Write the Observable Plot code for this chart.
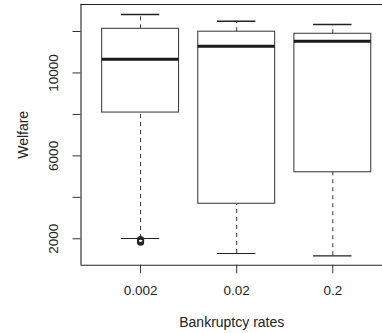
<!DOCTYPE html>
<html>
<head>
<meta charset="utf-8">
<script src="https://cdn.jsdelivr.net/npm/d3@7"></script>
<script src="https://cdn.jsdelivr.net/npm/@observablehq/plot@0.6"></script>
<style>
html, body { margin: 0; padding: 0; background: #fff; overflow: hidden; width: 382px; height: 333px; }
#chart svg { max-width: none !important; display: block; }
</style>
</head>
<body>
<div id="chart"></div>
<script>
const categories = ["0.002", "0.02", "0.2"];
const lowerWhisker = [2015, 1290, 1180];
const q1 = [8090, 3690, 5210];
const median = [10660, 11290, 11530];
const q3 = [12130, 11990, 11890];
const upperWhisker = [12820, 12500, 12340];
const outlierCategory = ["0.002", "0.002", "0.002", "0.002"];
const outlierValues = [1960, 1910, 1870, 1830];
const yTicks = [2000, 4000, 6000, 8000, 10000, 12000];

const xDomain = [0.38, 3.517];
const yDomain = [726, 13303];

const boxes = categories.map((c, i) => ({
  pos: i + 1, cat: c,
  lo: lowerWhisker[i], q1: q1[i], med: median[i], q3: q3[i], hi: upperWhisker[i]
}));
const outliers = outlierValues.map((v, i) => ({
  pos: categories.indexOf(outlierCategory[i]) + 1, v
}));

const ink = "#333";
const chart = Plot.plot({
  width: 382,
  height: 333,
  marginLeft: 80.5,
  marginRight: 0,
  marginTop: 4,
  marginBottom: 68.3,
  style: { fontFamily: "'Liberation Sans', Arial, sans-serif", background: "#fff", color: "#222", maxWidth: "none" },
  x: { type: "linear", domain: xDomain },
  y: { domain: yDomain },
  marks: [
    Plot.ruleY([yDomain[1]], { x1: xDomain[0], x2: xDomain[1], stroke: "#222", strokeWidth: 1.1 }),
    Plot.ruleY([yDomain[0]], { x1: xDomain[0], x2: xDomain[1], stroke: "#222", strokeWidth: 1.1 }),
    Plot.ruleX([xDomain[0]], { stroke: "#222", strokeWidth: 1.1 }),
    Plot.ruleX(boxes, { x: "pos", y1: "q3", y2: "hi", stroke: ink, strokeDasharray: "4,4" }),
    Plot.ruleX(boxes, { x: "pos", y1: "lo", y2: "q1", stroke: ink, strokeDasharray: "4,4" }),
    Plot.ruleY(boxes, { y: "hi", x1: d => d.pos - 0.2, x2: d => d.pos + 0.2, stroke: "#222", strokeWidth: 1.5 }),
    Plot.ruleY(boxes, { y: "lo", x1: d => d.pos - 0.2, x2: d => d.pos + 0.2, stroke: "#222", strokeWidth: 1.2 }),
    Plot.rect(boxes, { x1: d => d.pos - 0.4, x2: d => d.pos + 0.4, y1: "q1", y2: "q3", fill: "white", stroke: "#444", strokeWidth: 1.1 }),
    Plot.ruleY(boxes, { y: "med", x1: d => d.pos - 0.4, x2: d => d.pos + 0.4, stroke: "#1a1a1a", strokeWidth: 3 }),
    Plot.dot(outliers, { x: "pos", y: "v", r: 3, stroke: "#222", strokeWidth: 1.1, fill: "none" }),
    Plot.axisY({
      ticks: yTicks,
      tickFormat: d => (d % 4000 === 2000 ? String(d) : ""),
      tickSize: 8,
      tickPadding: 15,
      tickRotate: -90,
      textAnchor: "middle",
      fontSize: 13.5,
      stroke: "#333",
      label: null
    }),
    Plot.axisY({
      ticks: [],
      fontSize: 14,
      label: "Welfare",
      labelAnchor: "center",
      labelArrow: "none",
      labelOffset: 63
    }),
    Plot.axisX({
      ticks: [1, 2, 3],
      tickFormat: d => categories[d - 1],
      tickSize: 8.6,
      tickPadding: 12,
      fontSize: 13.5,
      stroke: "#333",
      label: null
    }),
    Plot.axisX({
      ticks: [],
      fontSize: 14,
      label: "Bankruptcy rates",
      labelAnchor: "center",
      labelArrow: "none",
      labelOffset: 62
    })
  ]
});
document.getElementById("chart").appendChild(chart);
</script>
</body>
</html>
